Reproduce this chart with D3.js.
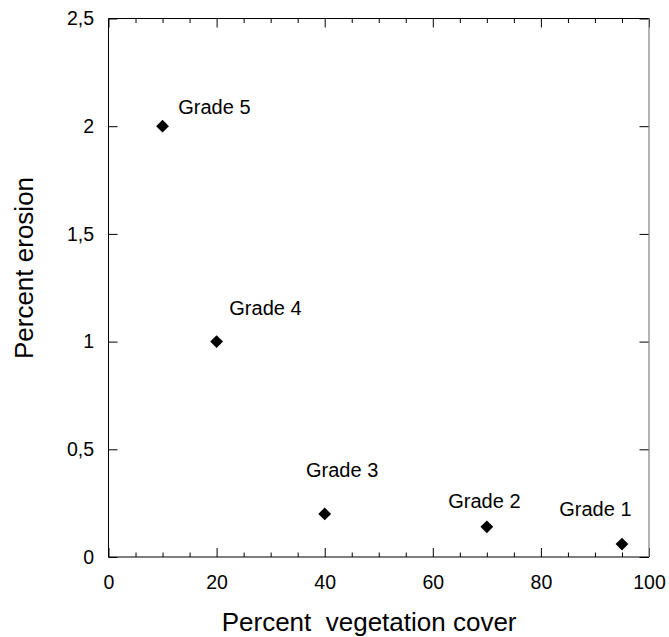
<!DOCTYPE html>
<html>
<head>
<meta charset="utf-8">
<script src="https://cdn.jsdelivr.net/npm/d3@7"></script>
<style>
  html, body { margin: 0; padding: 0; background: #fff; }
  svg { display: block; font-family: "Liberation Sans", Arial, Helvetica, sans-serif; }
</style>
</head>
<body>
<svg id="chart" width="669" height="637"></svg>
<script>
// ---- data ----
const grades = ["Grade 5", "Grade 4", "Grade 3", "Grade 2", "Grade 1"];
const vegetationCover = [10, 20, 40, 70, 95];
const erosion = [2.0, 1.0, 0.2, 0.14, 0.06];
const xTickLabels = [0, 20, 40, 60, 80, 100];
const yTickLabels = [0, 0.5, 1, 1.5, 2, 2.5];
const xTitle = "Percent  vegetation cover";
const yTitle = "Percent erosion";

// label placement relative to markers (layout, px)
const labelDx = [15.7, 12.7, -18.7, -38.6, -62.7];
const labelDy = [-12.4, -27, -36.5, -18.7, -28.3];

const svg = d3.select("#chart");
const pLeft = 108.5, pRight = 649, pTop = 18.5, pBottom = 557;
const x = d3.scaleLinear().domain([0, 100]).range([pLeft, pRight]);
const y = d3.scaleLinear().domain([0, 2.5]).range([pBottom, pTop]);
const fmt = d => String(d).replace(".", ",");
const xMinor = d3.range(0, 101, 5).filter(v => !xTickLabels.includes(v));

function styleAxis(g) {
  g.select(".domain").remove();
  g.selectAll("line").attr("stroke", "#000").attr("stroke-width", 1);
  g.selectAll("text").attr("fill", "#000").attr("font-size", 19.5)
    .attr("font-family", "'Liberation Sans', Arial, sans-serif");
}

// bottom axis major
svg.append("g").attr("transform", `translate(0,${pBottom})`)
  .call(d3.axisBottom(x).tickValues(xTickLabels).tickSize(-9).tickPadding(18).tickFormat(fmt))
  .call(styleAxis);
// bottom minor
svg.append("g").attr("transform", `translate(0,${pBottom})`)
  .call(d3.axisBottom(x).tickValues(xMinor).tickSize(-4.5).tickFormat(""))
  .call(styleAxis);
// top major/minor
svg.append("g").attr("transform", `translate(0,${pTop})`)
  .call(d3.axisTop(x).tickValues(xTickLabels).tickSize(-9).tickFormat(""))
  .call(styleAxis);
svg.append("g").attr("transform", `translate(0,${pTop})`)
  .call(d3.axisTop(x).tickValues(xMinor).tickSize(-4.5).tickFormat(""))
  .call(styleAxis);
// left axis
svg.append("g").attr("transform", `translate(${pLeft},0)`)
  .call(d3.axisLeft(y).tickValues(yTickLabels).tickSize(-9).tickPadding(14.5).tickFormat(fmt))
  .call(styleAxis);
// right axis
svg.append("g").attr("transform", `translate(${pRight},0)`)
  .call(d3.axisRight(y).tickValues(yTickLabels).tickSize(-9.5).tickFormat(""))
  .call(styleAxis);

// frame
const frame = svg.append("g").attr("fill", "none");
frame.append("line").attr("x1", pLeft).attr("x2", pRight).attr("y1", pTop).attr("y2", pTop).attr("stroke", "#000");
frame.append("line").attr("x1", pLeft).attr("x2", pRight).attr("y1", pBottom).attr("y2", pBottom).attr("stroke", "#000");
frame.append("line").attr("x1", pLeft).attr("x2", pLeft).attr("y1", pTop).attr("y2", pBottom).attr("stroke", "#000");
frame.append("line").attr("x1", pRight).attr("x2", pRight).attr("y1", pTop).attr("y2", pBottom).attr("stroke", "#808080").attr("stroke-width", 1.2);

// points
const pts = grades.map((g, i) => ({ g, xv: vegetationCover[i], yv: erosion[i], dx: labelDx[i], dy: labelDy[i] }));
const sym = d3.symbol().type(d3.symbolSquare).size(82);
svg.append("g").selectAll("path").data(pts).join("path")
  .attr("d", sym)
  .attr("transform", d => `translate(${x(d.xv)},${y(d.yv)}) rotate(45)`)
  .attr("fill", "#000");

svg.append("g").selectAll("text").data(pts).join("text")
  .attr("x", d => x(d.xv) + d.dx)
  .attr("y", d => y(d.yv) + d.dy)
  .attr("font-size", 20)
  .attr("fill", "#000")
  .text(d => d.g);

// titles
svg.append("text")
  .attr("x", 221.7).attr("y", 631)
  .attr("font-size", 26).attr("fill", "#000")
  .attr("xml:space", "preserve").style("white-space", "pre")
  .text(xTitle);
svg.append("text")
  .attr("transform", `translate(33,268) rotate(-90)`)
  .attr("text-anchor", "middle")
  .attr("font-size", 26).attr("fill", "#000")
  .text(yTitle);
</script>
</body>
</html>
